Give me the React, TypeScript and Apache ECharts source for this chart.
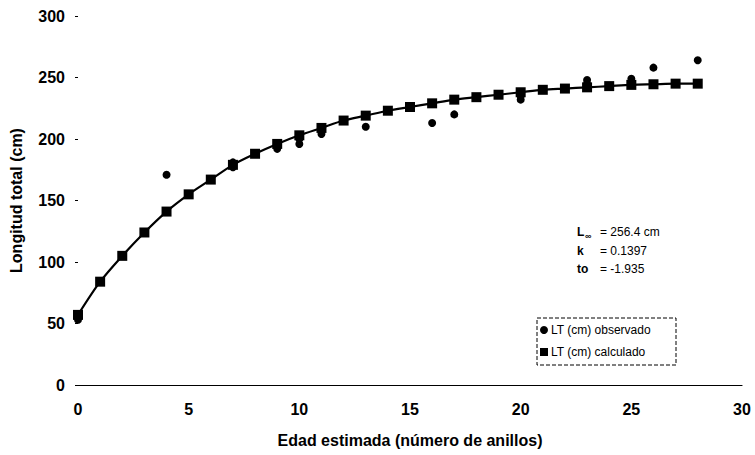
import React, { useEffect, useRef } from "react";
import * as echarts from "echarts";

const ages: number[] = [0, 1, 2, 3, 4, 5, 6, 7, 8, 9, 10, 11, 12, 13, 14, 15, 16, 17, 18, 19, 20, 21, 22, 23, 24, 25, 26, 27, 28];
const calculated: number[] = [57, 84, 105, 124, 141, 155, 167, 179, 188, 196, 203, 209, 215, 219, 223, 226, 229, 232, 234, 236, 238, 240, 241, 242, 243, 244, 244.5, 245, 245];
const observedAge: number[] = [0, 0, 4, 7, 7, 9, 10, 10, 11, 11, 13, 16, 17, 19, 20, 20, 23, 23, 25, 25, 26, 28];
const observedLen: number[] = [53, 56, 171, 177, 181, 192, 196, 200, 204, 207, 210, 213, 220, 236, 232, 235, 245, 248, 246, 249, 258, 264];
const xTicks: number[] = [0, 5, 10, 15, 20, 25, 30];
const yTicks: number[] = [0, 50, 100, 150, 200, 250, 300];

const seriesNames = ["LT (cm) observado", "LT (cm) calculado"];
const paramLabels = ["k", "to"];
const paramValues = ["= 256.4 cm", "= 0.1397", "= -1.935"];

const FONT = "Liberation Sans, Arial, sans-serif";

export default function App() {
  const ref = useRef<HTMLDivElement>(null);
  useEffect(() => {
    document.body.style.margin = "0";
    if (!ref.current) return;
    const chart = echarts.init(ref.current, null, { renderer: "svg" });
    const txt = (text: string, x: number, y: number, size = 12, weight = "normal") => ({
      type: "text",
      x,
      y,
      style: { text, fontSize: size, fontFamily: FONT, fontWeight: weight, fill: "#000", textVerticalAlign: "middle" },
    });
    chart.setOption({
      animation: false,
      backgroundColor: "#fff",
      grid: { left: 76, right: 13, top: 16, bottom: 70 },
      xAxis: {
        type: "value",
        min: xTicks[0],
        max: xTicks[xTicks.length - 1],
        interval: 5,
        name: "Edad estimada (número de anillos)",
        nameLocation: "middle",
        nameGap: 47,
        nameTextStyle: { fontSize: 16, fontWeight: "bold", fontFamily: FONT, color: "#000" },
        axisLine: { show: true, lineStyle: { color: "#000", width: 1.2 } },
        axisTick: { show: false },
        splitLine: { show: false },
        axisLabel: { margin: 16, fontSize: 16, fontWeight: "bold", fontFamily: FONT, color: "#000" },
      },
      yAxis: {
        type: "value",
        min: yTicks[0],
        max: yTicks[yTicks.length - 1],
        interval: 50,
        name: "Longitud total (cm)",
        nameLocation: "middle",
        nameGap: 54,
        nameTextStyle: { fontSize: 16, fontWeight: "bold", fontFamily: FONT, color: "#000" },
        axisLine: { show: false },
        axisTick: { show: true, length: 3, lineStyle: { color: "#000", width: 1 } },
        splitLine: { show: false },
        axisLabel: { margin: 13, fontSize: 16, fontWeight: "bold", fontFamily: FONT, color: "#000" },
      },
      legend: {
        orient: "vertical",
        left: 540,
        top: 324,
        itemWidth: 8,
        itemHeight: 8,
        itemGap: 10,
        padding: 0,
        textStyle: { fontSize: 12, fontFamily: FONT, color: "#000", padding: [0, 0, 0, -2] },
        data: [
          { name: seriesNames[0], icon: "circle" },
          { name: seriesNames[1], icon: "rect" },
        ],
      },
      graphic: [
        {
          type: "rect",
          shape: { x: 537, y: 318, width: 139, height: 47 },
          style: { fill: "none", stroke: "#000", lineWidth: 1, lineDash: [4, 2] },
        },
        txt("L", 577, 232, 12, "bold"),
        txt("∞", 585, 236, 9, "bold"),
        txt(paramValues[0], 600, 232),
        txt(paramLabels[0], 577, 251, 12, "bold"),
        txt(paramValues[1], 600, 251),
        txt(paramLabels[1], 577, 269, 12, "bold"),
        txt(paramValues[2], 600, 269),
      ],
      series: [
        {
          name: seriesNames[0],
          type: "scatter",
          data: observedAge.map((a, i) => [a, observedLen[i]]),
          symbol: "circle",
          symbolSize: 8,
          itemStyle: { color: "#000", opacity: 1 },
          z: 3,
        },
        {
          name: seriesNames[1],
          type: "line",
          data: ages.map((a, i) => [a, calculated[i]]),
          smooth: 0.3,
          symbol: "rect",
          symbolSize: 10,
          lineStyle: { color: "#000", width: 2.2 },
          itemStyle: { color: "#000" },
          z: 2,
        },
      ],
    });
    return () => chart.dispose();
  }, []);
  return <div ref={ref} style={{ width: 755, height: 455 }} />;
}
